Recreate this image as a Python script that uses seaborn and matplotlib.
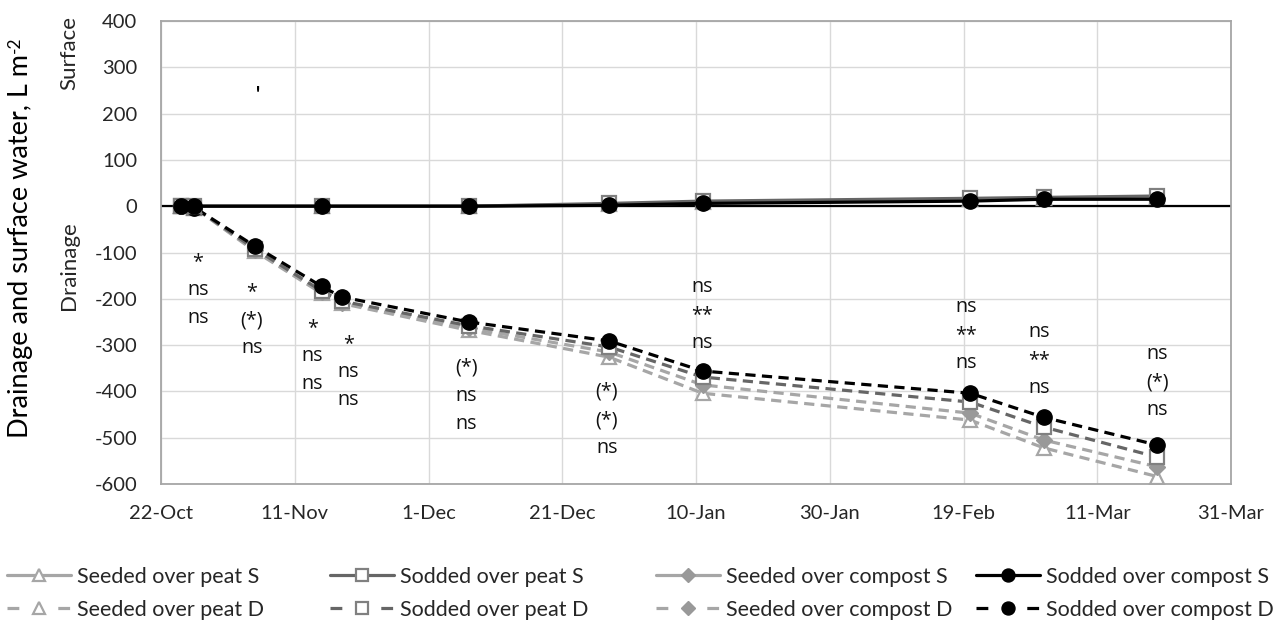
import numpy as np
import pandas as pd
import matplotlib
matplotlib.use("Agg")
import matplotlib.pyplot as plt
import matplotlib.dates as mdates
from matplotlib.ticker import FuncFormatter, MultipleLocator
from matplotlib.lines import Line2D
import seaborn as sns

# ---------------- data ----------------
surface_dates = ['2012-10-25', '2012-10-27', '2012-11-15', '2012-12-07', '2012-12-28',
                 '2013-01-11', '2013-02-20', '2013-03-03', '2013-03-20']
drain_dates = ['2012-10-25', '2012-10-27', '2012-11-05', '2012-11-15', '2012-11-18',
               '2012-12-07', '2012-12-28', '2013-01-11', '2013-02-20', '2013-03-03', '2013-03-20']

seeded_peat_S = [0, 0, 0, 0, 4, 9, 15, 17, 19]
sodded_peat_S = [0, 0, 0, 0, 6, 11, 17, 19, 22]
seeded_compost_S = [0, 0, 0, 0, 3, 7, 13, 15, 17]
sodded_compost_S = [0, 0, 0, 0, 2, 6, 11, 15, 15]

seeded_peat_D = [0, -3, -97, -188, -210, -268, -326, -404, -462, -522, -584]
sodded_peat_D = [0, -3, -92, -183, -205, -258, -304, -369, -423, -477, -542]
seeded_compost_D = [0, -3, -95, -186, -208, -263, -315, -386, -447, -505, -563]
sodded_compost_D = [0, -3, -86, -173, -196, -250, -291, -356, -404, -456, -516]

series_labels = ['Seeded over peat S', 'Sodded over peat S', 'Seeded over compost S', 'Sodded over compost S',
                 'Seeded over peat D', 'Sodded over peat D', 'Seeded over compost D', 'Sodded over compost D']

ann_dates = ['2012-10-27 12:00', '2012-11-04 14:00', '2012-11-13 16:00', '2012-11-19 00:00',
             '2012-12-06 16:00', '2012-12-27 16:00', '2013-01-10 21:00', '2013-02-19 10:00',
             '2013-03-02 08:00', '2013-03-20 00:00']
ann_texts = ['*\nns\nns', '*\n(*)\nns', '*\nns\nns', '*\nns\nns', '(*)\nns\nns',
             '(*)\n(*)\nns', 'ns\n**\nns', 'ns\n**\nns', 'ns\n**\nns', 'ns\n(*)\nns']
ann_y = [-181, -246, -324, -358, -410, -462, -235, -278, -332, -380]

stray_date = '2012-11-05 12:00'
stray_y = 228

x_start, x_end = '2012-10-22', '2013-03-31'
y_min, y_max = -600, 400

# ---------------- style ----------------
sns.set_style("white")
plt.rcParams['font.family'] = ['Lato', 'DejaVu Sans']
plt.rcParams['axes.unicode_minus'] = False
FS_TICK = 14.5
FS_ANN = 14.2
FS_LEG = 15.5

LIGHT = '#a6a6a6'
MID = '#666666'
BLACK = '#000000'
TXT = '#262626'

styles = {
    'Seeded over peat':    dict(color=LIGHT, marker='^', ms=10, mfc='white', mec=LIGHT, mew=1.6),
    'Sodded over peat':    dict(color=MID, marker='s', ms=10, mfc='white', mec='#808080', mew=1.6),
    'Seeded over compost': dict(color=LIGHT, marker='D', ms=8.5, mfc='#999999', mec='#999999', mew=1),
    'Sodded over compost': dict(color=BLACK, marker='o', ms=11, mfc=BLACK, mec=BLACK, mew=1),
}
DASH = (0, (3.2, 2.0))
LEG_DASH = (0, (3.7, 12.2))
LW = 2.3

fig = plt.figure(figsize=(12.79, 6.25), dpi=100)
ax = fig.add_axes([161 / 1279, 1 - 484 / 625, (1231 - 161) / 1279, (484 - 21) / 625])

sdates = pd.to_datetime(surface_dates)
ddates = pd.to_datetime(drain_dates)

ax.axhline(0, color='black', lw=1.6, zorder=1.5)

drain_series = [('Seeded over peat', seeded_peat_D), ('Seeded over compost', seeded_compost_D),
                ('Sodded over peat', sodded_peat_D), ('Sodded over compost', sodded_compost_D)]
surf_series = [('Seeded over peat', seeded_peat_S), ('Seeded over compost', seeded_compost_S),
               ('Sodded over peat', sodded_peat_S), ('Sodded over compost', sodded_compost_S)]

for name, vals in drain_series:
    st = styles[name]
    sns.lineplot(x=ddates, y=vals, ax=ax, color=st['color'], linewidth=LW, linestyle=DASH,
                 marker=st['marker'], markersize=st['ms'], markerfacecolor=st['mfc'],
                 markeredgecolor=st['mec'], markeredgewidth=st['mew'], legend=False, zorder=3)
for name, vals in surf_series:
    st = styles[name]
    sns.lineplot(x=sdates, y=vals, ax=ax, color=st['color'], linewidth=LW, linestyle='-',
                 marker=st['marker'], markersize=st['ms'], markerfacecolor=st['mfc'],
                 markeredgecolor=st['mec'], markeredgewidth=st['mew'], legend=False, zorder=3)

# annotations
for d, t, y in zip(ann_dates, ann_texts, ann_y):
    ax.text(pd.Timestamp(d), y, t, ha='center', va='center', fontsize=FS_ANN,
            linespacing=1.55, color='#111111', zorder=4, family=['Open Sans', 'DejaVu Sans'])
ax.text(pd.Timestamp(stray_date), stray_y, "'", ha='center', va='baseline', fontsize=FS_ANN,
        fontweight='bold', color='black')

# axes
ax.set_xlim(pd.Timestamp(x_start), pd.Timestamp(x_end))
ax.set_ylim(y_min, y_max)
ticks = pd.date_range(x_start, x_end, freq='20D')
ax.set_xticks(mdates.date2num(ticks))
ax.xaxis.set_major_formatter(FuncFormatter(
    lambda v, p: f"{mdates.num2date(v).day}-{mdates.num2date(v).strftime('%b')}"))
ax.yaxis.set_major_locator(MultipleLocator(100))
ax.grid(True, color='#d9d9d9', lw=1.0)
ax.set_axisbelow(True)
for s in ax.spines.values():
    s.set_color('#a6a6a6')
    s.set_linewidth(1.3)
ax.tick_params(axis='both', length=0, labelsize=FS_TICK, colors=TXT)
ax.tick_params(axis='x', pad=15)
ax.tick_params(axis='y', pad=17)
ax.set_xlabel('')
ax.set_ylabel('')

ylab = fig.text(21 / 1279, 1 - 246 / 625, 'Drainage and surface water, L m', rotation=90,
                ha='center', va='center', fontsize=19.5, color='black')
fig.text(69 / 1279, 1 - 53 / 625, 'Surface', rotation=90, ha='center', va='center', fontsize=16, color=TXT)
fig.text(69 / 1279, 1 - 266 / 625, 'Drainage', rotation=90, ha='center', va='center', fontsize=16, color=TXT)

# legend: four columns, each with S and D entries
names = ['Seeded over peat', 'Sodded over peat', 'Seeded over compost', 'Sodded over compost']
col_x = [7, 330, 656, 976]
for i, name in enumerate(names):
    st = styles[name]
    hs = []
    for ls in ['-', LEG_DASH]:
        hs.append(Line2D([], [], color=st['color'], lw=LW, linestyle=ls, marker=st['marker'],
                         markersize=st['ms'] * 0.85, markerfacecolor=st['mfc'],
                         markeredgecolor=st['mec'], markeredgewidth=st['mew']))
    labs = [series_labels[i], series_labels[i + 4]]
    fig.legend(hs, labs, loc='upper left', bbox_to_anchor=(col_x[i] / 1279, 1 - 567 / 625),
               frameon=False, fontsize=FS_LEG, handlelength=2.95, handletextpad=0.3,
               labelspacing=0.6, borderpad=0, borderaxespad=0, labelcolor=TXT)

# superscript for the y label
fig.canvas.draw()
bb = ylab.get_window_extent(fig.canvas.get_renderer())
fig.text((bb.x0 + 0.25 * bb.width) / 1279, (bb.y1 + 1) / 625, '-2', rotation=90,
         ha='center', va='bottom', fontsize=12.5, color='black')

fig.savefig('out.png', dpi=100)
